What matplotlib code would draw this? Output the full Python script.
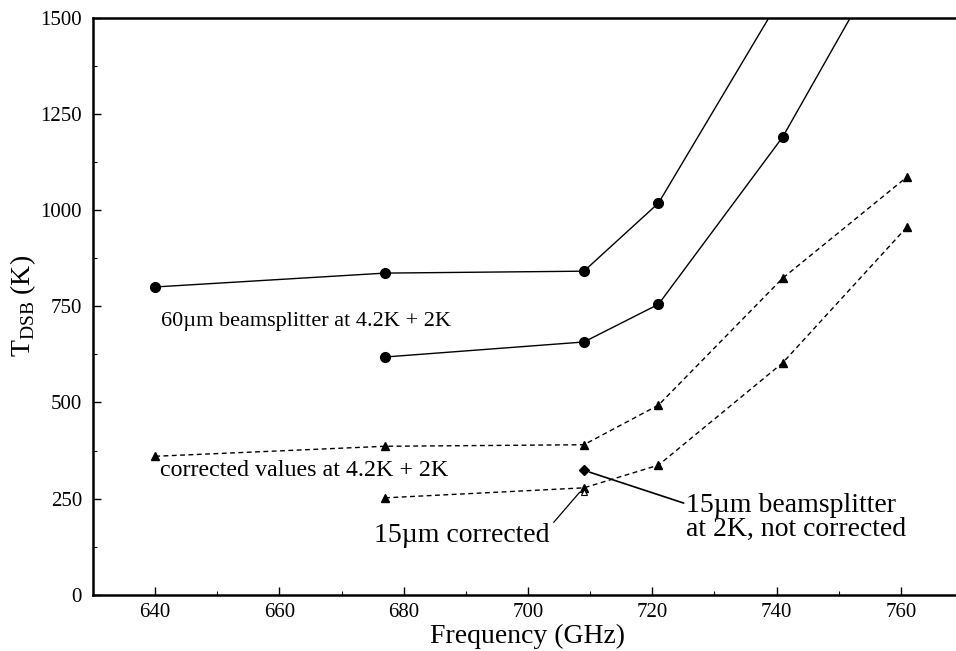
import matplotlib
matplotlib.use("Agg")
import matplotlib.pyplot as plt
from matplotlib.ticker import MultipleLocator

plt.rcParams['font.family'] = ['Liberation Serif', 'DejaVu Serif']
plt.rcParams['mathtext.fontset'] = 'custom'
plt.rcParams['mathtext.rm'] = 'Liberation Serif'

# 60um beamsplitter, two measurements (solid, circles)
freq_a = [640, 677, 709, 721, 741]
temp_a = [800, 836, 841, 1018, 1560]
freq_b = [677, 709, 721, 741, 761]
temp_b = [618, 657, 755, 1190, 1760]
# corrected values (dashed, triangles)
freq_c = [640, 677, 709, 721, 741, 761]
temp_c = [360, 386, 390, 493, 823, 1086]
freq_d = [677, 709, 721, 741, 761]
temp_d = [252, 278, 337, 603, 956]
# 15um beamsplitter single points
freq_15 = [709]
temp_15 = [324]
temp_15c = [268]

xticks = [640, 660, 680, 700, 720, 740, 760]
yticks = [0, 250, 500, 750, 1000, 1250, 1500]

fig = plt.figure(figsize=(9.56, 6.51), dpi=100)
ax = fig.add_axes([0.0973, 0.0863, 0.910, 0.8867])

ax.plot(freq_a, temp_a, '-', color='black', lw=1.0, marker='o', ms=7)
ax.plot(freq_b, temp_b, '-', color='black', lw=1.0, marker='o', ms=7)
ax.plot(freq_c, temp_c, '--', color='black', lw=1.0, marker='^', ms=5.5, dashes=(3.5, 2.5))
ax.plot(freq_d, temp_d, '--', color='black', lw=1.0, marker='^', ms=5.5, dashes=(3.5, 2.5))
ax.plot(freq_15, temp_15, 'D', color='black', ms=5.5)
ax.plot(freq_15, temp_15c, '^', color='black', mfc='white', ms=4, mew=0.8)

ax.set_xlim(630, 770)
ax.set_ylim(0, 1500)
ax.set_xticks(xticks)
ax.set_yticks(yticks)
ax.xaxis.set_minor_locator(MultipleLocator(10))
ax.yaxis.set_minor_locator(MultipleLocator(125))
ax.tick_params(which='major', direction='in', length=6, width=1, labelsize=15, pad=6)
ax.tick_params(which='minor', direction='in', length=3, width=0.8)
ax.tick_params(axis='y', pad=8)
for s in ['left', 'top', 'bottom']:
    ax.spines[s].set_linewidth(1.8)
ax.spines['right'].set_visible(False)

ax.set_xlabel('Frequency (GHz)', size=20, labelpad=1)
ax.set_ylabel(r'T$_{\mathrm{DSB}}$ (K)', size=20, labelpad=2)

ax.text(641, 710, '60\u00b5m beamsplitter at 4.2K + 2K', size=16, ha='left', va='center')
ax.text(640.8, 322, 'corrected values at 4.2K + 2K', size=17.3, ha='left', va='center')
ax.annotate('15\u00b5m corrected', xy=(708.6, 272), xytext=(703.4, 155),
            size=20, ha='right', va='center',
            arrowprops=dict(arrowstyle='-', color='black', lw=0.9, shrinkA=2, shrinkB=2,
                            relpos=(1.0, 0.8)))
ax.annotate('15\u00b5m beamsplitter\nat 2K, not corrected', xy=(709.3, 322), xytext=(725.5, 201),
            size=20, ha='left', va='center', linespacing=0.9,
            arrowprops=dict(arrowstyle='-', color='black', lw=1.2, shrinkA=0, shrinkB=3,
                            relpos=(0.0, 0.78)))

plt.savefig('out.png', dpi=100)
